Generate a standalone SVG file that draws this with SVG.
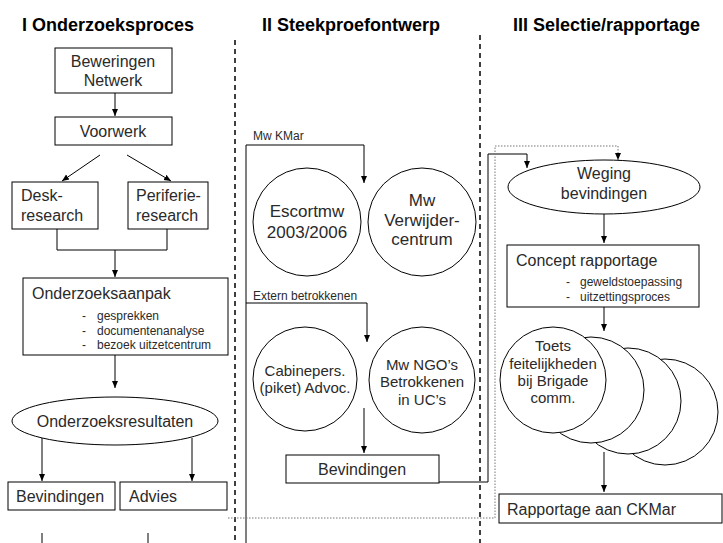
<svg xmlns="http://www.w3.org/2000/svg" width="723" height="543" viewBox="0 0 723 543">
<defs>
<marker id="ah" markerWidth="8" markerHeight="8" refX="7" refY="4" orient="auto" markerUnits="userSpaceOnUse">
<path d="M0,1 L7,4 L0,7 Z" fill="#000"/>
</marker>
<style>
.t{font-family:"Liberation Sans",Arial,sans-serif;fill:#2a2a2a;}
.h{font-family:"Liberation Sans",Arial,sans-serif;font-weight:bold;font-size:18px;fill:#000;}
.b{fill:#fff;stroke:#000;stroke-width:1;}
.c{fill:none;stroke:#000;stroke-width:1;}
.a{fill:none;stroke:#000;stroke-width:1;marker-end:url(#ah);}
.d{fill:none;stroke:#000;stroke-width:1.5;stroke-dasharray:5,4;}
.dot{fill:none;stroke:#777;stroke-width:1;stroke-dasharray:1.5,1.5;}
.m{font-size:16px;}
.s{font-size:12px;}
.mid{text-anchor:middle;}
</style>
</defs>
<rect width="723" height="543" fill="#fff"/>

<g id="titles">
<text class="h" x="22" y="31">I Onderzoeksproces</text>
<text class="h" x="262" y="31">II Steekproefontwerp</text>
<text class="h" x="513" y="31">III Selectie/rapportage</text>
</g>

<g id="separators">
<line class="d" x1="235" y1="40" x2="235" y2="543"/>
<line class="d" x1="480" y1="35" x2="480" y2="543"/>
</g>

<g id="connectors">
<line class="a" x1="115" y1="93" x2="115" y2="116"/>
<line class="a" x1="100" y1="155" x2="62" y2="181"/>
<line class="a" x1="127" y1="155" x2="171" y2="181"/>
<polyline class="c" points="57,229 57,250 167,250 167,229"/>
<line class="a" x1="115" y1="250" x2="115" y2="277"/>
<line class="a" x1="115" y1="355" x2="115" y2="388"/>
<line class="a" x1="42" y1="438" x2="42" y2="481"/>
<line class="a" x1="192" y1="438" x2="192" y2="481"/>
<line class="c" x1="42" y1="533" x2="42" y2="543"/>
<line class="c" x1="148" y1="533" x2="148" y2="543"/>

<polyline class="c" points="246,543 246,145 364,145"/>
<line class="a" x1="364" y1="145" x2="364" y2="183"/>
<polyline class="c" points="246,303 367,303"/>
<line class="a" x1="367" y1="303" x2="367" y2="342"/>
<line class="a" x1="364" y1="408" x2="364" y2="453"/>
<polyline class="c" points="439,482 488,482 488,154 527,154"/>
<line class="a" x1="527" y1="154" x2="527" y2="168"/>
<polyline class="dot" points="228,518 495,518 495,146 618,146 618,154"/>
<line class="a" x1="618" y1="153" x2="618" y2="160" style="stroke-dasharray:1.5,1.5;stroke:#777"/>

<line class="a" x1="604" y1="213" x2="604" y2="243"/>
<line class="a" x1="604" y1="307" x2="604" y2="331"/>
<line class="a" x1="604" y1="452" x2="604" y2="492"/>
</g>

<g id="n-beweringen">
<rect class="b" x="55" y="48" width="117" height="45"/>
<text class="t m mid" x="113" y="67">Beweringen</text>
<text class="t m mid" x="113" y="86">Netwerk</text>
</g>
<g id="n-voorwerk">
<rect class="b" x="55" y="117" width="117" height="28"/>
<text class="t m mid" x="113" y="137">Voorwerk</text>
</g>
<g id="n-desk">
<rect class="b" x="12" y="182" width="86" height="47"/>
<text class="t m" x="21" y="201">Desk-</text>
<text class="t m" x="21" y="221">research</text>
</g>
<g id="n-periferie">
<rect class="b" x="128" y="182" width="80" height="47"/>
<text class="t m" x="136" y="201">Periferie-</text>
<text class="t m" x="136" y="221">research</text>
</g>
<g id="n-aanpak">
<rect class="b" x="23" y="278" width="205" height="77"/>
<text class="t m" x="32" y="299">Onderzoeksaanpak</text>
<text class="t s" x="82" y="320">-</text>
<text class="t s" x="97" y="320">gesprekken</text>
<text class="t s" x="82" y="335">-</text>
<text class="t s" x="97" y="335">documentenanalyse</text>
<text class="t s" x="82" y="349">-</text>
<text class="t s" x="97" y="349">bezoek uitzetcentrum</text>
</g>
<g id="n-resultaten">
<ellipse class="b" cx="115" cy="421" rx="103" ry="24"/>
<text class="t m mid" x="115" y="427">Onderzoeksresultaten</text>
</g>
<g id="n-bevindingen1">
<rect class="b" x="8" y="482" width="107" height="28"/>
<text class="t m" x="16" y="502">Bevindingen</text>
</g>
<g id="n-advies">
<rect class="b" x="120" y="482" width="107" height="28"/>
<text class="t m" x="129" y="502">Advies</text>
</g>

<g id="l-mwkmar"><text class="t s" x="253" y="140">Mw KMar</text></g>
<g id="n-escort">
<circle class="b" cx="307" cy="222" r="54"/>
<text class="t mid" style="font-size:17px" x="307" y="217">Escortmw</text>
<text class="t mid" style="font-size:17px" x="307" y="238">2003/2006</text>
</g>
<g id="n-verwijder">
<circle class="b" cx="422" cy="222" r="54"/>
<text class="t mid" style="font-size:17px" x="422" y="206">Mw</text>
<text class="t mid" style="font-size:17px" x="422" y="226">Verwijder-</text>
<text class="t mid" style="font-size:17px" x="422" y="245">centrum</text>
</g>
<g id="l-extern"><text class="t s" x="253" y="300">Extern betrokkenen</text></g>
<g id="n-cabine">
<circle class="b" cx="305" cy="379" r="52"/>
<text class="t mid" style="font-size:15px" x="305" y="376">Cabinepers.</text>
<text class="t mid" style="font-size:15px" x="305" y="393">(piket) Advoc.</text>
</g>
<g id="n-ngo">
<circle class="b" cx="422" cy="380" r="53"/>
<text class="t mid" style="font-size:15px" x="422" y="370">Mw NGO’s</text>
<text class="t mid" style="font-size:15px" x="422" y="387">Betrokkenen</text>
<text class="t mid" style="font-size:15px" x="422" y="405">in UC’s</text>
</g>
<g id="n-bevindingen2">
<rect class="b" x="286" y="455" width="153" height="28"/>
<text class="t m mid" x="362" y="475">Bevindingen</text>
</g>

<g id="n-weging">
<ellipse class="b" cx="604" cy="187" rx="96" ry="27"/>
<text class="t m mid" x="604" y="179">Weging</text>
<text class="t m mid" x="604" y="199">bevindingen</text>
</g>
<g id="n-concept">
<rect class="b" x="507" y="245" width="192" height="62"/>
<text class="t m" x="516" y="266">Concept rapportage</text>
<text class="t s" x="566" y="286">-</text>
<text class="t s" x="580" y="286">geweldstoepassing</text>
<text class="t s" x="566" y="301">-</text>
<text class="t s" x="580" y="301">uitzettingsproces</text>
</g>
<g id="n-toets">
<circle class="b" cx="665" cy="412" r="53"/>
<circle class="b" cx="628" cy="401" r="53"/>
<circle class="b" cx="591" cy="390" r="53"/>
<circle class="b" cx="553" cy="380" r="53"/>
<text class="t mid" style="font-size:15px" x="553" y="351">Toets</text>
<text class="t mid" style="font-size:15px" x="553" y="369">feitelijkheden</text>
<text class="t mid" style="font-size:15px" x="553" y="386">bij Brigade</text>
<text class="t mid" style="font-size:15px" x="553" y="403">comm.</text>
</g>
<g id="n-rapportage">
<rect class="b" x="499" y="494" width="223" height="29"/>
<text class="t m" x="507" y="515">Rapportage aan CKMar</text>
</g>
</svg>
